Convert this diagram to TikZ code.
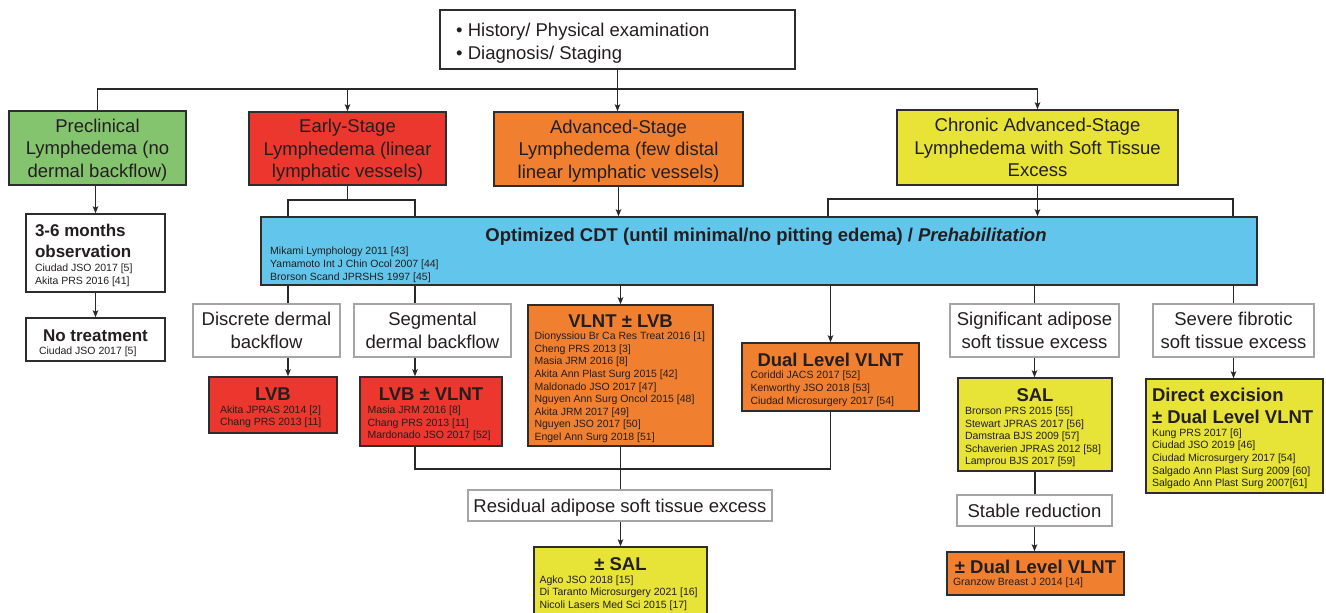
\documentclass[tikz,border=0pt]{standalone}
\usepackage{fontspec}
\setmainfont{Liberation Sans}
\usetikzlibrary{arrows.meta}
\definecolor{txt}{RGB}{35,31,32}
\definecolor{linec}{RGB}{40,40,40}
\definecolor{bordc}{RGB}{45,45,45}
\definecolor{grayb}{RGB}{165,165,165}
\definecolor{pgreen}{RGB}{133,196,110}
\definecolor{pred}{RGB}{235,55,45}
\definecolor{porange}{RGB}{241,127,48}
\definecolor{pyellow}{RGB}{231,227,55}
\definecolor{pblue}{RGB}{98,197,235}
\newcommand{\mfont}{\fontsize{18.5}{22.5}\selectfont}
\newcommand{\tfont}{\fontsize{18.5}{22}\selectfont\bfseries}
\newcommand{\ofont}{\fontsize{17}{21}\selectfont\bfseries}
\newcommand{\rfont}{\fontsize{10.5}{12.6}\selectfont}
\newcommand{\treatbox}[4]{\begin{minipage}{#1}\vspace*{#2}{\centering\tfont #3\par}{\raggedright\rfont #4\par}\end{minipage}}
\begin{document}
\begin{tikzpicture}[x=1pt,y=-1pt,
  line/.style={draw=linec, line width=1.4pt},
  arr/.style={line, -{Stealth[length=7pt,width=5.5pt,inset=1.5pt]}},
  bx/.style={draw=bordc, line width=1.4pt, inner sep=0pt, text=txt},
  cbox/.style={bx, align=center, font=\mfont, text depth=-2pt},
  wbox/.style={draw=grayb, line width=1.4pt, fill=white, inner sep=0pt, text=txt, align=center, font=\mfont, text depth=-2pt}]
\useasboundingbox (0,0) rectangle (1326,613);
\fill[white] (0,0) rectangle (1326,613);

% top
\node[bx, fill=white, minimum width=355, minimum height=59] (top) at (617.5,39.5) {};
\node[text=txt, font=\mfont, align=left, inner sep=0pt, anchor=north west] (toptext) at (456,23.3) {• History/ Physical examination\\• Diagnosis/ Staging};

% stages
\node[cbox, fill=pgreen, minimum width=177, minimum height=74] (pre) at (97.5,148) {Preclinical\\Lymphedema (no\\dermal backflow)};
\node[cbox, fill=pred, minimum width=197, minimum height=73] (early) at (347.5,148.5) {Early-Stage\\Lymphedema (linear\\lymphatic vessels)};
\node[cbox, fill=porange, minimum width=249, minimum height=74] (adv) at (618.5,149) {Advanced-Stage\\Lymphedema (few distal\\linear lymphatic vessels)};
\node[cbox, fill=pyellow, minimum width=281, minimum height=75] (chr) at (1037.5,147.5) {Chronic Advanced-Stage\\Lymphedema with Soft Tissue\\Excess};

% preclinical branch
\node[bx, fill=white, minimum width=139, minimum height=78] (obs) at (95.5,253) {\begin{minipage}{121pt}\vspace*{5pt}\raggedright{\ofont 3-6 months\\observation\par}\vspace{1pt}{\rfont Ciudad JSO 2017 [5]\\Akita PRS 2016 [41]\par}\end{minipage}};
\node[bx, fill=white, minimum width=139, minimum height=43] (notr) at (95.5,339.5) {\begin{minipage}{113pt}\vspace*{7pt}{\centering\ofont No treatment\par}{\raggedright\rfont Ciudad JSO 2017 [5]\par}\end{minipage}};

% CDT
\node[bx, fill=pblue, minimum width=996, minimum height=68] (cdt) at (759,251) {};
\node[text=txt, font=\tfont, inner sep=0pt] (cdttitle) at (766,236.5) {Optimized CDT (until minimal/no pitting edema) / \textit{Prehabilitation}};
\node[text=txt, font=\rfont, align=left, inner sep=0pt, anchor=north west] (cdtrefs) at (270,247) {Mikami Lymphology 2011 [43]\\Yamamoto Int J Chin Ocol 2007 [44]\\Brorson Scand JPRSHS 1997 [45]};

% conditions
\node[wbox, minimum width=147, minimum height=53] (disc) at (266.5,330.5) {Discrete dermal\\backflow};
\node[wbox, minimum width=157, minimum height=53] (seg) at (432.5,330.5) {Segmental\\dermal backflow};
\node[wbox, minimum width=169, minimum height=53] (sig) at (1034.5,330.5) {Significant adipose\\soft tissue excess};
\node[wbox, minimum width=161, minimum height=53] (sev) at (1233.5,330.5) {Severe fibrotic\\soft tissue excess};
\node[wbox, minimum width=304, minimum height=31] (res) at (620,505.5) {Residual adipose soft tissue excess};
\node[wbox, minimum width=155, minimum height=31] (stab) at (1034.5,510.5) {Stable reduction};

% treatments
\node[bx, fill=pred, minimum width=128, minimum height=56] (lvb) at (273,405) {\treatbox{106pt}{6pt}{LVB}{Akita JPRAS 2014 [2]\\Chang PRS 2013 [11]}};
\node[bx, fill=pred, minimum width=142, minimum height=69] (lvbv) at (431,411.5) {\treatbox{127pt}{6pt}{LVB ± VLNT}{Masia JRM 2016 [8]\\Chang PRS 2013 [11]\\Mardonado JSO 2017 [52]}};
\node[bx, fill=porange, minimum width=185, minimum height=141] (vlnt) at (620.5,375.5) {\treatbox{172pt}{6pt}{VLNT ± LVB}{Dionyssiou Br Ca Res Treat 2016 [1]\\Cheng PRS 2013 [3]\\Masia JRM 2016 [8]\\Akita Ann Plast Surg 2015 [42]\\Maldonado JSO 2017 [47]\\Nguyen Ann Surg Oncol 2015 [48]\\Akita JRM 2017 [49]\\Nguyen JSO 2017 [50]\\Engel Ann Surg 2018 [51]}};
\node[bx, fill=porange, minimum width=177, minimum height=68] (dual) at (830.5,377) {\treatbox{160pt}{5pt}{Dual Level VLNT}{Coriddi JACS 2017 [52]\\Kenworthy JSO 2018 [53]\\Ciudad Microsurgery 2017 [54]}};
\node[bx, fill=pyellow, minimum width=154, minimum height=93] (sal) at (1035,424.5) {\treatbox{140pt}{7pt}{SAL}{Brorson PRS 2015 [55]\\Stewart JPRAS 2017 [56]\\Damstraa BJS 2009 [57]\\Schaverien JPRAS 2012 [58]\\Lamprou BJS 2017 [59]}};
\node[bx, fill=pyellow, minimum width=177, minimum height=114] (direct) at (1234.5,436) {\begin{minipage}{165pt}\vspace*{5pt}\raggedright{\tfont Direct excision\\± Dual Level VLNT\par}{\rfont Kung PRS 2017 [6]\\Ciudad JSO 2019 [46]\\Ciudad Microsurgery 2017 [54]\\Salgado Ann Plast Surg 2009 [60]\\Salgado Ann Plast Surg 2007[61]\par}\end{minipage}};
\node[bx, fill=porange, minimum width=177, minimum height=43] (pdual) at (1035.5,573.5) {\treatbox{165pt}{1pt}{± Dual Level VLNT}{Granzow Breast J 2014 [14]}};
\node[bx, fill=pyellow, minimum width=173, minimum height=68] (psal) at (620.5,581) {\treatbox{162pt}{6pt}{± SAL}{Agko JSO 2018 [15]\\Di Taranto Microsurgery 2021 [16]\\Nicoli Lasers Med Sci 2015 [17]}};

% connectors top
\coordinate (b1) at (0,89);
\draw[line] (pre.north) -- (pre.north |- b1) -- (chr.north |- b1);
\draw[arr] (top.south) -- (top.south |- adv.north);
\draw[arr] (early.north |- b1) -- (early.north);
\draw[arr] (chr.north |- b1) -- (chr.north);
\draw[arr] (pre.south -| obs.north) -- (obs.north);
\draw[arr] (obs) -- (notr);

\coordinate (cL) at (288,200);
\coordinate (cR) at (415,200);
\draw[line] (early.south) -- (early.south |- cL);
\draw[line] (cL |- cdt.north) -- (cL) -- (cR) -- (cR |- cdt.north);
\draw[arr] (adv.south) -- (adv.south |- cdt.north);
\coordinate (dL) at (828,199);
\coordinate (dR) at (1233,199);
\draw[arr] (chr.south) -- (chr.south |- cdt.north);
\draw[line] (dL |- cdt.north) -- (dL) -- (dR) -- (dR |- cdt.north);

% below CDT
\draw[line] (cdt.south -| cL) -- (disc.north -| cL);
\draw[arr] (disc.south -| cL) -- (lvb.north -| cL);
\draw[line] (cdt.south -| cR) -- (seg.north -| cR);
\draw[arr] (seg.south -| cR) -- (lvbv.north -| cR);
\draw[arr] (cdt.south -| vlnt.north) -- (vlnt.north);
\draw[arr] (cdt.south -| dual.north) -- (dual.north);
\draw[line] (cdt.south -| sig.north) -- (sig.north);
\draw[arr] (sig.south) -- (sig.south |- sal.north);
\draw[line] (cdt.south -| sev.north) -- (sev.north);
\draw[arr] (sev.south) -- (sev.south |- direct.north);
\draw[line] (sal.south) -- (sal.south |- stab.north);
\draw[arr] (stab.south) -- (stab.south |- pdual.north);
\coordinate (mg) at (0,469);
\draw[line] (lvbv.south -| cR) -- (cR |- mg) -- (dual.south |- mg) -- (dual.south);
\draw[line] (vlnt.south) -- (vlnt.south |- res.north);
\draw[arr] (res.south -| vlnt.south) -- (psal.north -| vlnt.south);
\end{tikzpicture}
\end{document}
